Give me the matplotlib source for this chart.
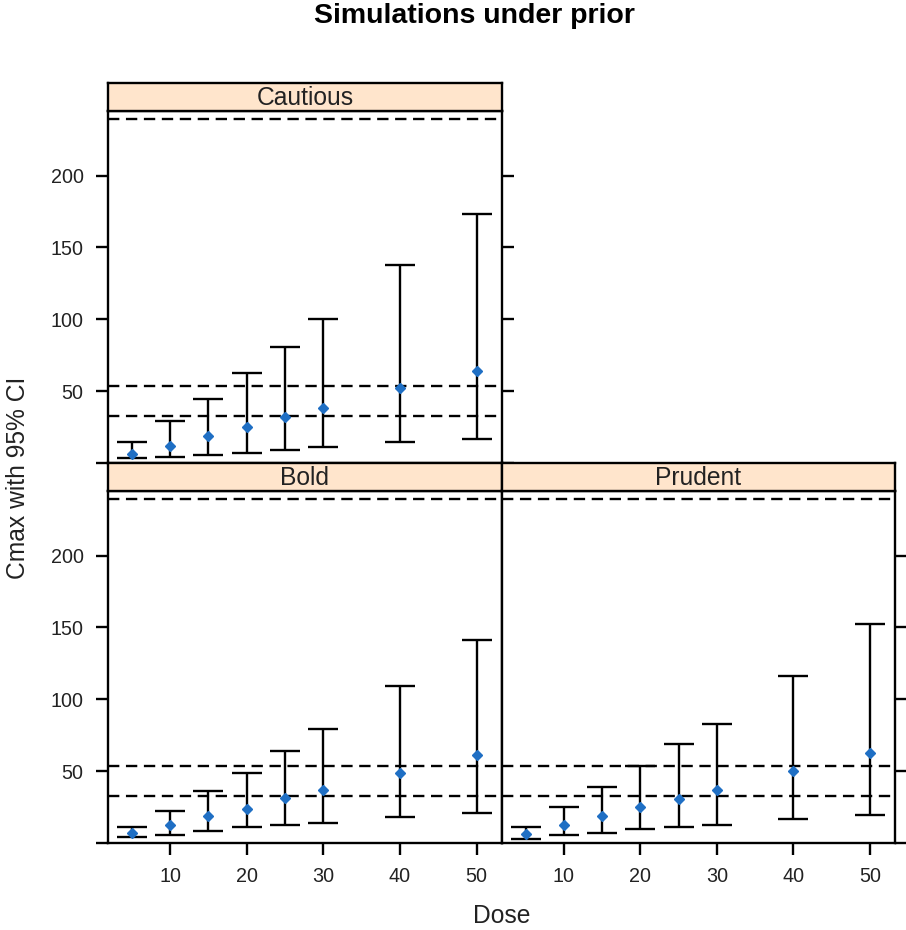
import matplotlib
matplotlib.use("Agg")
import matplotlib.pyplot as plt
import numpy as np

plt.rcParams['font.family'] = ['Liberation Sans', 'DejaVu Sans']

# Data
doses = [5, 10, 15, 20, 25, 30, 40, 50]

cautious_mid = [6.1, 11.9, 18.8, 25.3, 32.2, 38.0, 52.3, 63.9]
cautious_lo = [3.3, 4.5, 5.6, 7.3, 8.9, 11.4, 14.4, 17.0]
cautious_hi = [14.4, 29.4, 44.5, 62.7, 81.0, 100.0, 137.5, 173.1]

bold_mid = [6.8, 12.2, 18.6, 23.7, 31.1, 36.8, 48.9, 61.1]
bold_lo = [4.5, 5.6, 8.7, 11.2, 12.6, 14.2, 18.1, 21.2]
bold_hi = [11.2, 22.6, 36.4, 48.9, 63.9, 79.1, 109.6, 141.3]

prudent_mid = [6.3, 12.6, 18.6, 25.1, 30.6, 36.6, 50.0, 62.7]
prudent_lo = [2.7, 5.6, 7.0, 9.8, 11.2, 12.6, 16.7, 19.5]
prudent_hi = [11.2, 25.1, 39.2, 53.7, 69.2, 83.0, 116.5, 152.6]

ref_lines = [33, 53.5, 239.5]
x_ticks = [10, 20, 30, 40, 50]
y_ticks = [0, 50, 100, 150, 200]
y_ticklabels = ['', '50', '100', '150', '200']

W, H = 906, 930
fig = plt.figure(figsize=(W / 100, H / 100), dpi=100)
fig.patch.set_facecolor('white')

strip_col = '#ffe5cc'
pt_col = '#1f6fc4'
txt_col = '#222222'
lw = 1.7


def px_axes(x0, y0, x1, y1):
    # pixel box (top-left origin) -> figure axes
    return fig.add_axes([x0 / W, 1 - y1 / H, (x1 - x0) / W, (y1 - y0) / H])


def panel(box, strip_box, name, mid, lo, hi, left, bottom, top, right):
    ax = px_axes(*box)
    for y in ref_lines:
        ax.axhline(y, color='black', lw=lw, ls=(0, (4.8, 2.8)), zorder=1)
    mid = np.array(mid)
    ax.errorbar(doses, mid, yerr=[mid - np.array(lo), np.array(hi) - mid],
                fmt='none', ecolor='black', elinewidth=lw, capsize=10.8,
                capthick=lw, zorder=2)
    ax.plot(doses, mid, ls='none', marker='D', ms=5, color=pt_col,
            mec=pt_col, zorder=3)
    ax.set_xlim(1.9, 53.3)
    ax.set_ylim(0, 245)
    ax.set_xticks(x_ticks)
    ax.set_yticks(y_ticks)
    ax.set_yticklabels(y_ticklabels)
    ax.tick_params(direction='out', length=8.5, width=lw, labelsize=14.2,
                   labelcolor=txt_col, pad=9, left=left, labelleft=left,
                   bottom=bottom, labelbottom=bottom, top=top,
                   labeltop=False, right=right, labelright=False)
    for s in ax.spines.values():
        s.set_linewidth(lw)

    sax = px_axes(*strip_box)
    sax.set_facecolor(strip_col)
    sax.set_xticks([])
    sax.set_yticks([])
    for s in sax.spines.values():
        s.set_linewidth(lw)
    sax.text(0.5, 0.45, name, ha='center', va='center', fontsize=17.7,
             color=txt_col, transform=sax.transAxes)
    return ax


panel((108, 111, 502, 463), (108, 83, 502, 111), 'Cautious',
      cautious_mid, cautious_lo, cautious_hi,
      left=True, bottom=False, top=True, right=True)
panel((108, 491, 502, 843), (108, 463, 502, 491), 'Bold',
      bold_mid, bold_lo, bold_hi,
      left=True, bottom=True, top=False, right=False)
panel((502, 491, 895, 843), (502, 463, 895, 491), 'Prudent',
      prudent_mid, prudent_lo, prudent_hi,
      left=False, bottom=True, top=False, right=True)

fig.text(474.5 / W, 1 - 16 / H, 'Simulations under prior', ha='center',
         va='center', fontsize=20.5, fontweight='bold', color='black')
fig.text(18 / W, 1 - 478 / H, 'Cmax with 95% CI', ha='center', va='center',
         rotation=90, fontsize=17.7, color=txt_col)
fig.text(501.5 / W, 1 - 916 / H, 'Dose', ha='center', va='center',
         fontsize=17.7, color=txt_col)

fig.savefig('out.png', dpi=100, facecolor='white')
